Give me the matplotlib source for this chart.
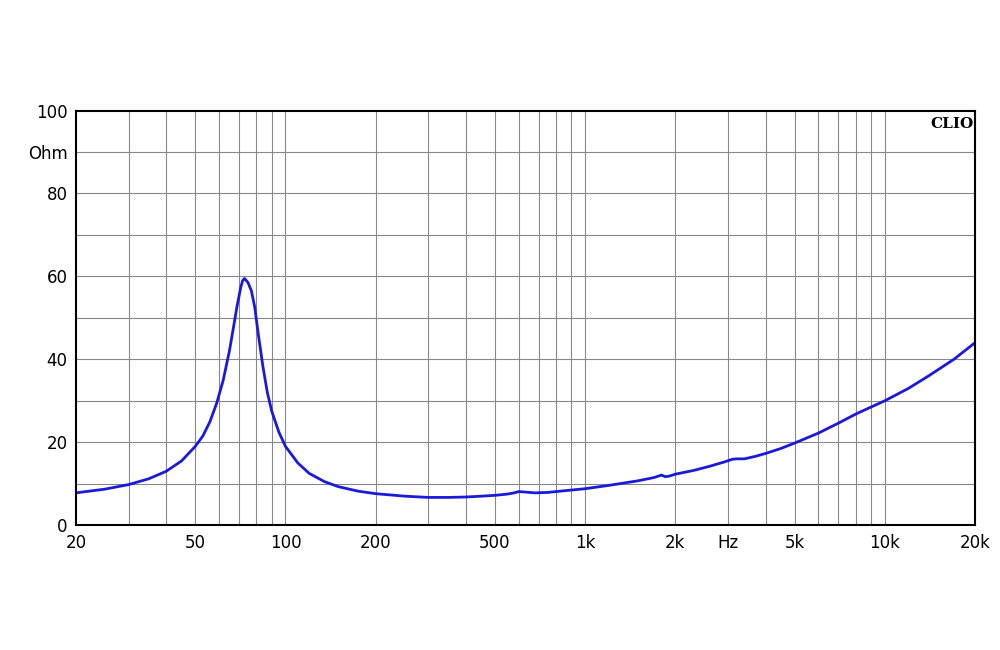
import matplotlib
matplotlib.use("Agg")
import matplotlib.pyplot as plt
import numpy as np

freq = [20, 25, 30, 35, 40, 45, 50, 53, 56, 59, 62, 65, 67, 69, 71, 72, 73, 75, 77, 79, 81, 84, 87, 90, 95, 100, 110, 120, 135, 150, 175, 200, 250, 300, 350, 400, 450, 500, 550, 580, 600, 630, 680, 750, 850, 1000, 1200, 1500, 1700, 1750, 1800, 1850, 1900, 2000, 2300, 2600, 2900, 3100, 3200, 3400, 3700, 4000, 4500, 5000, 6000, 7000, 8000, 9000, 10000, 12000, 14000, 17000, 20000]
ohm = [7.8, 8.7, 9.8, 11.2, 13.0, 15.5, 19.0, 21.5, 25.0, 29.5, 35.0, 42.0, 47.5, 53.0, 57.5, 59.0, 59.5, 58.5, 56.5, 52.5, 46.5, 38.5, 32.0, 27.5, 22.5, 19.0, 15.0, 12.5, 10.5, 9.3, 8.2, 7.6, 7.0, 6.7, 6.7, 6.8, 7.0, 7.2, 7.5, 7.8, 8.1, 8.0, 7.8, 7.9, 8.3, 8.8, 9.6, 10.7, 11.5, 11.8, 12.1, 11.7, 11.8, 12.3, 13.2, 14.2, 15.2, 15.9, 16.0, 16.0, 16.6, 17.3, 18.5, 19.8, 22.2, 24.6, 26.8, 28.5, 30.0, 33.0, 36.0, 40.0, 44.0]

xticks = [20, 50, 100, 200, 500, 1000, 2000, 3000, 5000, 10000, 20000]
xlabels = ["20", "50", "100", "200", "500", "1k", "2k", "Hz", "5k", "10k", "20k"]
yticks = [0, 20, 40, 60, 80, 90, 100]
ylabels = ["0", "20", "40", "60", "80", "Ohm", "100"]

fig = plt.figure(figsize=(10, 6.5), dpi=100)
ax = fig.add_axes([0.076, 0.192, 0.899, 0.638])
ax.set_xscale("log")
ax.set_xlim(20, 20000)
ax.set_ylim(0, 100)
grid = [g * 10**d for d in range(1, 5) for g in range(1, 10)]
for g in grid:
    if 20 < g < 20000:
        ax.axvline(g, color="#888888", lw=0.8)
for v in range(10, 100, 10):
    ax.axhline(v, color="#888888", lw=0.8)
ax.plot(freq, ohm, color="#1a1adb", lw=2)
ax.set_xticks(xticks)
ax.set_xticklabels(xlabels, fontsize=12)
ax.minorticks_off()
ax.set_yticks(yticks)
ax.set_yticklabels(ylabels, fontsize=12)
ax.tick_params(length=0, pad=6)
for s in ax.spines.values():
    s.set_linewidth(1.5)
ax.text(0.998, 0.985, "CLIO", transform=ax.transAxes, ha="right", va="top",
        fontsize=11, fontweight="bold", family="DejaVu Serif")
fig.savefig("out.png")
